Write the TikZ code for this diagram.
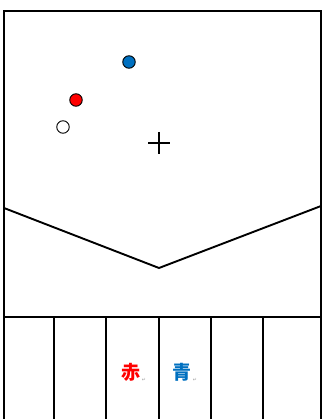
\documentclass[tikz,border=0pt]{standalone}
\usepackage{fontspec}
\usepackage{tikz}
\usetikzlibrary{calc, positioning}
\newfontfamily\cjkfont{Noto Sans CJK JP}
\newfontfamily\markfont{DejaVu Sans}
\definecolor{DotRed}{HTML}{FF0000}
\definecolor{DotBlue}{HTML}{0070C0}
\definecolor{MarkGray}{HTML}{A0A0A0}

\begin{document}
\begin{tikzpicture}[x=1pt, y=-1pt,
        frame/.style={draw=black, line width=2.2pt},
        dot/.style={circle, draw=black, line width=0.9pt, minimum size=12.5pt, inner sep=0pt},
        kanji/.style={font=\cjkfont\bfseries\fontsize{19}{19}\selectfont, inner sep=0pt},
        retmark/.style={font=\markfont\fontsize{5}{5}\selectfont, text=MarkGray, inner sep=0pt}]

        \useasboundingbox (0,0) rectangle (326,419);

        % outer frame and bands
        \draw[frame] (4,419) -- (4,11) -- (321,11) -- (321,419);
        \draw[frame] (4,317) -- (321,317);
        \coordinate (vleft)  at (4,208);
        \coordinate (vtip)   at (159,268);
        \coordinate (vright) at (321,206);
        \draw[frame, line width=1.9pt] (vleft) -- (vtip) -- (vright);
        \foreach \x in {54,106,159,211,263}
          \draw[frame] (\x,317) -- (\x,419);

        % markers
        \node[dot, fill=DotBlue] (blue)  at (129,62)  {};
        \node[dot, fill=DotRed]  (red)   at (76,100)  {};
        \node[dot, fill=white]   (white) at (63,127)  {};
        \coordinate (centre) at (159,143);
        \draw[line width=1.7pt] ($(centre)+(-11,0)$) -- ($(centre)+(11,0)$)
                                ($(centre)+(0,-11)$) -- ($(centre)+(0,11)$);

        % labels
        \node[kanji, text=DotRed]  (aka) at (131,372) {赤};
        \node[kanji, text=DotBlue] (ao)  at (182,372) {青};
        \node[retmark, anchor=south west] at ($(aka.south east)+(1,0)$) {↵};
        \node[retmark, anchor=south west] at ($(ao.south east)+(1,0)$)  {↵};
      \end{tikzpicture}
\end{document}
